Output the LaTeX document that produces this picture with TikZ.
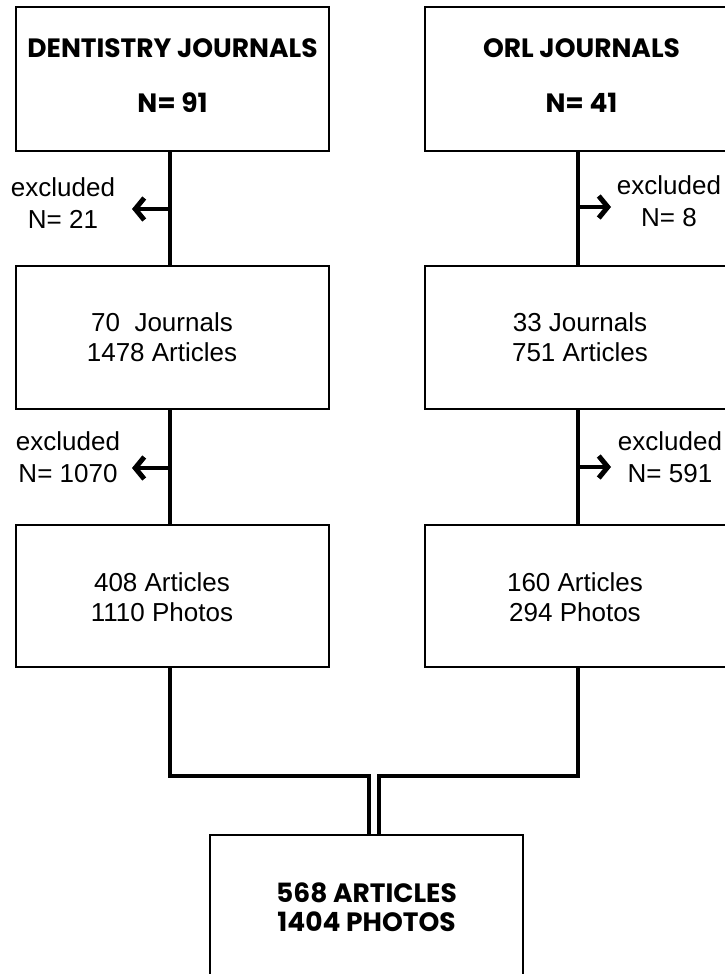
\documentclass[tikz,border=0pt]{standalone}
\usepackage{fontspec}
\setmainfont{Liberation Sans}
\newfontfamily\headfont{Poppins}
\usetikzlibrary{arrows.meta,calc}
\newcommand{\lowpad}{\rule[-7pt]{0pt}{7pt}}
\begin{document}
\begin{tikzpicture}[x=1pt,y=-1pt,
  box/.style={draw=black,line width=1.6pt,minimum width=313pt,inner sep=0pt,align=center},
  headtxt/.style={font=\headfont\bfseries\fontsize{26.5}{30}\selectfont},
  bodytxt/.style={font=\fontsize{26}{30}\selectfont,align=center,inner sep=0pt},
  exctxt/.style={font=\fontsize{26}{32}\selectfont,align=center,inner sep=0pt},
  conn/.style={line width=4pt,draw=black},
  exarrow/.style={line width=4pt,-{Straight Barb[length=9pt,width=22pt,line width=5pt]}}]
\useasboundingbox (0,0) rectangle (724,974);
% boxes
\node[box,headtxt,minimum height=144pt] (L1) at (172.5,79) {DENTISTRY JOURNALS\\[25pt]N= 91\lowpad};
\node[box,headtxt,minimum height=144pt] (R1) at (581.5,79) {ORL JOURNALS\\[25pt]N= 41\lowpad};
\node[box,minimum height=143pt] (L2) at (172.5,337.5) {};
\node[box,minimum height=143pt] (R2) at (581.5,337.5) {};
\node[box,minimum height=142pt] (L3) at (172.5,596) {};
\node[box,minimum height=142pt] (R3) at (581.5,596) {};
\node[box,headtxt,minimum height=144pt] (B) at (366.5,907) {568 ARTICLES\\[-1pt]1404 PHOTOS};
% box texts
\node[bodytxt] (L2t) at (162,337) {70\ \ Journals\\1478 Articles};
\node[bodytxt] (R2t) at (580,337) {33 Journals\\751 Articles};
\node[bodytxt] (L3t) at (162,597) {408 Articles\\1110 Photos};
\node[bodytxt] (R3t) at (575,597) {160 Articles\\294 Photos};
% vertical connectors
\coordinate (lx) at (170,0);
\coordinate (rx) at (578,0);
\draw[conn] (L1.south -| lx) -- (L2.north -| lx);
\draw[conn] (L2.south -| lx) -- (L3.north -| lx);
\draw[conn] (R1.south -| rx) -- (R2.north -| rx);
\draw[conn] (R2.south -| rx) -- (R3.north -| rx);
% exclusion arrows
\coordinate (e1s) at (170,209); \coordinate (e1t) at (132,209);
\coordinate (e2s) at (170,468); \coordinate (e2t) at (132,468);
\coordinate (e3s) at (578,207); \coordinate (e3t) at (611,207);
\coordinate (e4s) at (578,467); \coordinate (e4t) at (611,467);
\draw[exarrow] (e1s) -- (e1t);
\draw[exarrow] (e2s) -- (e2t);
\draw[exarrow] (e3s) -- (e3t);
\draw[exarrow] (e4s) -- (e4t);
\node[exctxt] (x1) at (63,203) {excluded\\N= 21};
\node[exctxt] (x2) at (68,457) {excluded\\N= 1070};
\node[exctxt] (x3) at (669,201) {excluded\\N= 8};
\node[exctxt] (x4) at (670,457) {excluded\\N= 591};
% merge connectors
\coordinate (jl) at (369,776);
\coordinate (jr) at (379,776);
\draw[conn,line join=miter] (L3.south -| lx) |- (jl) -- (jl |- B.north);
\draw[conn,line join=miter] (R3.south -| rx) |- (jr) -- (jr |- B.north);
\end{tikzpicture}
\end{document}
